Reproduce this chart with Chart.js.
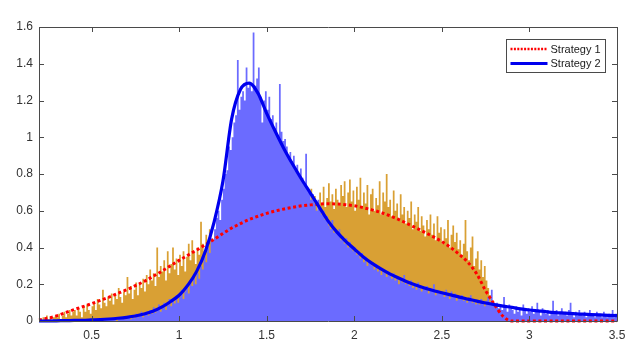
<!DOCTYPE html>
<html>
<head>
<meta charset="utf-8">
<script src="https://cdn.jsdelivr.net/npm/chart.js@4"></script>
<style>
  html, body { margin: 0; padding: 0; background: #fff; }
</style>
</head>
<body>
<canvas id="chart-1" width="640" height="360"></canvas>
<script>
// axis ticks
const xTicks = [0.5, 1, 1.5, 2, 2.5, 3, 3.5];
const yTicks = [0, 0.2, 0.4, 0.6, 0.8, 1, 1.2, 1.4, 1.6];

// histogram bins: left edge of first bin and bin width
const binStart = 0.2;
const binWidth = 0.01;

// Strategy 1 histogram (orange), one value per bin from 0.20 to 3.49
const s1Hist = [
  0.01, 0, 0.02, 0.01, 0.03, 0.01, 0.02, 0, 0.02, 0.03,
  0.02, 0.04, 0.01, 0.03, 0.05, 0.02, 0.04, 0.06, 0.03, 0.05,
  0.06, 0.03, 0.07, 0.05, 0.02, 0.08, 0.05, 0.09, 0.06, 0.04,
  0.08, 0.1, 0.06, 0.12, 0.09, 0.07, 0.17, 0.1, 0.08, 0.13,
  0.11, 0.15, 0.09, 0.14, 0.12, 0.18, 0.13, 0.1, 0.16, 0.14,
  0.24, 0.15, 0.19, 0.12, 0.17, 0.21, 0.14, 0.2, 0.18, 0.23,
  0.16, 0.25, 0.2, 0.28, 0.22, 0.26, 0.19, 0.4, 0.24, 0.3,
  0.27, 0.33, 0.22, 0.38, 0.26, 0.31, 0.4, 0.28, 0.34, 0.25,
  0.36, 0.3, 0.38, 0.27, 0.35, 0.42, 0.33, 0.44, 0.37, 0.31,
  0.4, 0.36, 0.54, 0.42, 0.38, 0.47, 0.41, 0.5, 0.44, 0.4,
  0.48, 0.43, 0.5, 0.46, 0.53, 0.45, 0.52, 0.49, 0.55, 0.47,
  0.5, 0.56, 0.48, 0.53, 0.58, 0.51, 0.55, 0.52, 0.57, 0.54,
  0.56, 0.53, 0.59, 0.55, 0.6, 0.57, 0.54, 0.61, 0.58, 0.56,
  0.6, 0.57, 0.62, 0.59, 0.56, 0.63, 0.6, 0.58, 0.64, 0.61,
  0.62, 0.59, 0.65, 0.6, 0.63, 0.67, 0.61, 0.64, 0.6, 0.66,
  0.63, 0.7, 0.61, 0.66, 0.64, 0.72, 0.62, 0.68, 0.65, 0.6,
  0.7, 0.64, 0.73, 0.62, 0.67, 0.75, 0.65, 0.69, 0.61, 0.72,
  0.66, 0.63, 0.74, 0.68, 0.76, 0.62, 0.7, 0.77, 0.65, 0.71,
  0.6, 0.73, 0.66, 0.78, 0.62, 0.7, 0.64, 0.74, 0.58, 0.69,
  0.72, 0.6, 0.67, 0.63, 0.76, 0.58, 0.7, 0.65, 0.8, 0.62,
  0.66, 0.57, 0.71, 0.6, 0.64, 0.55, 0.69, 0.58, 0.62, 0.53,
  0.6, 0.56, 0.65, 0.5, 0.58, 0.54, 0.62, 0.49, 0.57, 0.52,
  0.46, 0.55, 0.5, 0.58, 0.47, 0.53, 0.44, 0.57, 0.48, 0.51,
  0.42, 0.5, 0.45, 0.55, 0.4, 0.47, 0.52, 0.43, 0.48, 0.39,
  0.44, 0.36, 0.42, 0.55, 0.38, 0.33, 0.4, 0.46, 0.3, 0.34,
  0.38, 0.28, 0.33, 0.24, 0.3, 0.22, 0.18, 0.14, 0.1, 0.08,
  0.06, 0.05, 0.04, 0.03, 0.02, 0.02, 0.01, 0.01, 0, 0,
  0, 0, 0, 0, 0, 0, 0, 0, 0, 0,
  0, 0, 0, 0, 0, 0, 0, 0, 0, 0,
  0, 0, 0, 0, 0, 0, 0, 0, 0, 0,
  0, 0, 0, 0, 0, 0, 0, 0, 0, 0,
  0, 0, 0, 0, 0, 0, 0, 0, 0, 0,
  0, 0, 0, 0, 0, 0, 0, 0, 0, 0
];

// Strategy 2 histogram (blue), same bins
const s2Hist = [
  0, 0, 0, 0, 0, 0, 0, 0, 0, 0,
  0, 0, 0, 0, 0, 0, 0, 0, 0, 0.005,
  0, 0, 0.005, 0, 0, 0.005, 0, 0, 0.01, 0,
  0.005, 0, 0.01, 0, 0.005, 0.01, 0, 0.015, 0.005, 0.01,
  0.01, 0.005, 0.02, 0.01, 0, 0.015, 0.02, 0.01, 0.025, 0.01,
  0.02, 0.03, 0.01, 0.025, 0.015, 0.04, 0.02, 0.03, 0.05, 0.02,
  0.035, 0.05, 0.03, 0.06, 0.04, 0.075, 0.045, 0.06, 0.09, 0.05,
  0.07, 0.1, 0.06, 0.085, 0.12, 0.08, 0.11, 0.095, 0.14, 0.1,
  0.13, 0.17, 0.12, 0.16, 0.2, 0.15, 0.21, 0.19, 0.24, 0.2,
  0.26, 0.23, 0.3, 0.28, 0.35, 0.32, 0.4, 0.37, 0.45, 0.44,
  0.5, 0.56, 0.6, 0.55, 0.66, 0.72, 0.8, 0.82, 0.95, 0.93,
  1.0, 1.08, 1.12, 1.42, 1.15, 1.22, 1.25, 1.2, 1.38, 1.27,
  1.3, 1.25, 1.57, 1.28, 1.32, 1.38, 1.22, 1.08, 1.2, 1.25,
  1.15, 1.22, 1.1, 1.12, 1.05, 1.08, 1.0, 1.29, 1.03, 0.98,
  0.99, 0.95, 0.9, 0.92, 0.87, 0.9, 0.82, 0.85, 0.8, 0.83,
  0.78, 0.74, 0.91, 0.72, 0.7, 0.66, 0.69, 0.64, 0.6, 0.66,
  0.62, 0.58, 0.6, 0.55, 0.57, 0.52, 0.5, 0.55, 0.48, 0.5,
  0.47, 0.5, 0.44, 0.46, 0.42, 0.45, 0.4, 0.43, 0.41, 0.38,
  0.4, 0.36, 0.38, 0.34, 0.37, 0.32, 0.35, 0.3, 0.33, 0.31,
  0.3, 0.28, 0.31, 0.27, 0.29, 0.25, 0.28, 0.26, 0.24, 0.27,
  0.25, 0.23, 0.26, 0.22, 0.24, 0.2, 0.23, 0.21, 0.25, 0.2,
  0.21, 0.19, 0.22, 0.18, 0.2, 0.17, 0.21, 0.18, 0.16, 0.19,
  0.17, 0.19, 0.15, 0.18, 0.16, 0.2, 0.14, 0.17, 0.15, 0.16,
  0.15, 0.13, 0.17, 0.14, 0.12, 0.16, 0.13, 0.15, 0.11, 0.14,
  0.12, 0.14, 0.11, 0.13, 0.1, 0.12, 0.14, 0.1, 0.12, 0.09,
  0.11, 0.09, 0.12, 0.1, 0.08, 0.11, 0.13, 0.09, 0.17, 0.1,
  0.08, 0.1, 0.07, 0.09, 0.06, 0.13, 0.08, 0.05, 0.09, 0.07,
  0.06, 0.04, 0.08, 0.05, 0.07, 0.03, 0.09, 0.06, 0.04, 0.07,
  0.05, 0.08, 0.04, 0.06, 0.1, 0.05, 0.03, 0.07, 0.05, 0.04,
  0.06, 0.03, 0.05, 0.11, 0.04, 0.06, 0.03, 0.05, 0.07, 0.04,
  0.05, 0.03, 0.06, 0.1, 0.04, 0.02, 0.05, 0.03, 0.06, 0.04,
  0.03, 0.05, 0.02, 0.04, 0.06, 0.03, 0.04, 0.02, 0.05, 0.03,
  0.04, 0.02, 0.05, 0.03, 0.02, 0.04, 0.03, 0.06, 0.02, 0.04
];

// fitted density curves
const curveX = [
  0.2, 0.25, 0.3, 0.35, 0.4, 0.45, 0.5, 0.55, 0.6, 0.65,
  0.7, 0.75, 0.8, 0.85, 0.9, 0.95, 1, 1.05, 1.1, 1.15,
  1.2, 1.25, 1.3, 1.35, 1.4, 1.45, 1.5, 1.55, 1.6, 1.65,
  1.7, 1.75, 1.8, 1.85, 1.9, 1.95, 2, 2.05, 2.1, 2.15,
  2.2, 2.25, 2.3, 2.35, 2.4, 2.45, 2.5, 2.55, 2.6, 2.65,
  2.7, 2.75, 2.8, 2.85, 2.9, 2.95, 3, 3.05, 3.1, 3.15,
  3.2, 3.25, 3.3, 3.35, 3.4, 3.45, 3.5
];
const s1Curve = [
  0.005, 0.015, 0.028, 0.045, 0.062, 0.078, 0.094, 0.112, 0.13, 0.15,
  0.17, 0.192, 0.215, 0.242, 0.27, 0.3, 0.33, 0.358, 0.386, 0.415,
  0.445, 0.476, 0.506, 0.53, 0.552, 0.57, 0.586, 0.599, 0.61, 0.619,
  0.627, 0.632, 0.636, 0.638, 0.637, 0.633, 0.627, 0.617, 0.605, 0.591,
  0.574, 0.554, 0.531, 0.508, 0.484, 0.459, 0.432, 0.4, 0.362, 0.318,
  0.255, 0.165, 0.09, 0.025, 0, 0, 0, 0, 0, 0,
  0, 0, 0, 0, 0, 0, 0
];
const s2Curve = [
  0, 0, 0.001, 0.002, 0.003, 0.004, 0.006, 0.008, 0.011, 0.015,
  0.02, 0.027, 0.038, 0.053, 0.075, 0.105, 0.14, 0.195, 0.27, 0.38,
  0.54, 0.76, 1.1, 1.26, 1.295, 1.24, 1.13, 1.03, 0.935, 0.85,
  0.77, 0.695, 0.62, 0.545, 0.485, 0.435, 0.392, 0.35, 0.315, 0.285,
  0.258, 0.235, 0.214, 0.196, 0.18, 0.166, 0.154, 0.142, 0.13, 0.119,
  0.108, 0.098, 0.089, 0.081, 0.074, 0.066, 0.06, 0.055, 0.05, 0.046,
  0.043, 0.04, 0.037, 0.035, 0.033, 0.031, 0.029
];

// histogram as stepped area: point at each bin's left edge, plus closing edge
function histPoints(vals) {
  const pts = vals.map((v, i) => ({ x: binStart + i * binWidth, y: v }));
  pts.push({ x: binStart + vals.length * binWidth, y: vals[vals.length - 1] });
  return pts;
}
function curvePoints(vals) {
  return vals.map((v, i) => ({ x: curveX[i], y: v }));
}

const FONT = 'Arial, "Liberation Sans", Helvetica, sans-serif';
const AXIS_COLOR = '#4a4a4a';

// matlab style box with inward ticks
const axesBox = {
  id: 'axesBox',
  afterDatasetsDraw(chart) {
    const { ctx, chartArea: a, scales } = chart;
    const len = 5;
    ctx.save();
    ctx.strokeStyle = AXIS_COLOR;
    ctx.lineWidth = 1;
    ctx.beginPath();
    ctx.rect(Math.round(a.left) + 0.5, Math.round(a.top) + 0.5,
             Math.round(a.right - a.left), Math.round(a.bottom - a.top));
    xTicks.forEach(v => {
      const px = Math.round(scales.x.getPixelForValue(v)) + 0.5;
      ctx.moveTo(px, a.top); ctx.lineTo(px, a.top + len);
      ctx.moveTo(px, a.bottom); ctx.lineTo(px, a.bottom - len);
    });
    yTicks.forEach(v => {
      const py = Math.round(scales.y.getPixelForValue(v)) + 0.5;
      ctx.moveTo(a.left, py); ctx.lineTo(a.left + len, py);
      ctx.moveTo(a.right, py); ctx.lineTo(a.right - len, py);
    });
    ctx.stroke();
    ctx.restore();
  }
};

// legend box in the top right corner of the axes
const legendBox = {
  id: 'legendBox',
  afterDraw(chart) {
    const { ctx, chartArea: a } = chart;
    const items = chart.data.datasets.filter(d => d.type === 'line' && d.label);
    const w = 99, h = 33;
    const x0 = a.right - 110.5, y0 = a.top + 12.5;
    ctx.save();
    ctx.fillStyle = '#fff';
    ctx.fillRect(x0, y0, w, h);
    ctx.strokeStyle = AXIS_COLOR;
    ctx.lineWidth = 1;
    ctx.strokeRect(x0, y0, w, h);
    items.forEach((d, i) => {
      const y = y0 + 9.5 + i * 14.5;
      ctx.beginPath();
      ctx.strokeStyle = d.borderColor;
      ctx.lineWidth = d.legendWidth;
      ctx.setLineDash(d.legendDash);
      ctx.moveTo(x0 + 4, y);
      ctx.lineTo(x0 + 41, y);
      ctx.stroke();
      ctx.setLineDash([]);
      ctx.fillStyle = '#1a1a1a';
      ctx.font = '11px ' + FONT;
      ctx.textBaseline = 'middle';
      ctx.textAlign = 'left';
      ctx.fillText(d.label, x0 + 44, y + 0.5);
    });
    ctx.restore();
  }
};

const ctx1 = document.getElementById('chart-1');

new Chart(ctx1, {
  type: 'line',
  data: {
    datasets: [
      {
        type: 'line',
        label: 'Strategy 1',
        data: curvePoints(s1Curve),
        borderColor: '#ff0000',
        borderWidth: 3,
        borderDash: [3, 2.6],
        legendWidth: 2.5,
        legendDash: [2, 1.4],
        cubicInterpolationMode: 'monotone',
        pointRadius: 0,
        fill: false,
        clip: false,
        order: 1
      },
      {
        type: 'line',
        label: 'Strategy 2',
        data: curvePoints(s2Curve),
        borderColor: '#0000ee',
        borderWidth: 3.2,
        legendWidth: 3,
        legendDash: [],
        cubicInterpolationMode: 'monotone',
        pointRadius: 0,
        fill: false,
        clip: false,
        order: 0
      },
      {
        data: histPoints(s2Hist),
        stepped: true,
        borderWidth: 0,
        borderColor: 'rgba(0,0,0,0)',
        backgroundColor: '#6b6bff',
        fill: 'origin',
        pointRadius: 0,
        order: 2
      },
      {
        data: histPoints(s1Hist),
        stepped: true,
        borderWidth: 0,
        borderColor: 'rgba(0,0,0,0)',
        backgroundColor: '#d9a034',
        fill: 'origin',
        pointRadius: 0,
        order: 3
      }
    ]
  },
  options: {
    responsive: false,
    animation: false,
    events: [],
    layout: { padding: { top: 27, right: 23, left: 0, bottom: 0 } },
    plugins: {
      legend: { display: false },
      tooltip: { enabled: false }
    },
    scales: {
      x: {
        type: 'linear',
        min: 0.2,
        max: 3.5,
        offset: false,
        grid: { display: false, drawTicks: false },
        border: { display: false },
        afterBuildTicks: s => { s.ticks = xTicks.map(v => ({ value: v })); },
        afterFit: s => { s.height = 39; },
        ticks: {
          color: '#333',
          font: { family: FONT, size: 12 },
          padding: 7,
          maxRotation: 0,
          autoSkip: false,
          callback: v => String(v)
        }
      },
      y: {
        type: 'linear',
        min: 0,
        max: 1.6,
        grid: { display: false, drawTicks: false },
        border: { display: false },
        afterBuildTicks: s => { s.ticks = yTicks.map(v => ({ value: v })); },
        afterFit: s => { s.width = 39; },
        ticks: {
          color: '#333',
          font: { family: FONT, size: 12 },
          padding: 6,
          autoSkip: false,
          callback: v => String(v)
        }
      }
    }
  },
  plugins: [axesBox, legendBox]
});
</script>
</body>
</html>
